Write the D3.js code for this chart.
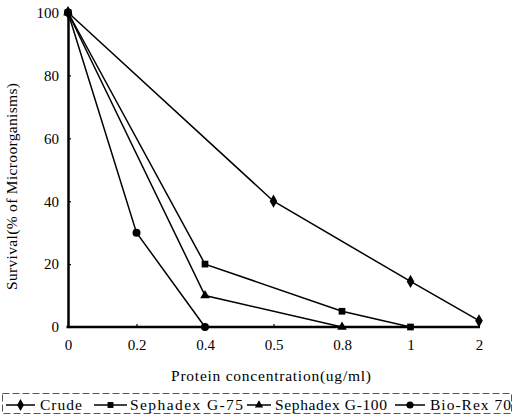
<!DOCTYPE html>
<html><head><meta charset="utf-8">
<script src="https://cdn.jsdelivr.net/npm/d3@7"></script>
<style>body{margin:0;background:#fff;}</style>
</head><body>
<svg id="c" width="514" height="417"></svg>
<script>
const categories = ["0","0.2","0.4","0.5","0.8","1","2"];
const yTicks = [0,20,40,60,80,100];
const seriesNames = ["Crude","Sephadex G-75","Sephadex G-100","Bio-Rex 70"];
const crude = [["0",100],["0.5",40],["1",14.5],["2",2]];
const sephadexG75 = [["0",100],["0.4",20],["0.8",5],["1",0]];
const sephadexG100 = [["0",100],["0.4",10],["0.8",0]];
const bioRex70 = [["0",100],["0.2",30],["0.4",0]];
const seriesData = [crude, sephadexG75, sephadexG100, bioRex70];
const symbols = [d3.symbolDiamond, d3.symbolSquare, d3.symbolTriangle, d3.symbolCircle];
const symSizes = [50, 45, 40, 50];
const FONT = "'Liberation Serif','Times New Roman',serif";

const svg = d3.select("#c");
const x = d3.scalePoint().domain(categories).range([68, 479]);
const y = d3.scaleLinear().domain([0,100]).range([327, 12.5]);

// lines
const line = d3.line().x(d=>x(d[0])).y(d=>y(d[1]));
seriesData.forEach((s,i)=>{
  svg.append("path").datum(s).attr("d",line).attr("fill","none").attr("stroke","#000").attr("stroke-width",1.5);
  svg.selectAll(null).data(s).enter().append("path")
    .attr("transform",d=>`translate(${x(d[0])},${y(d[1])})`)
    .attr("d",d3.symbol().type(symbols[i]).size(symSizes[i]))
    .attr("fill","#000");
});

// axes
const yAxis = d3.axisLeft(y).tickValues(yTicks).tickSizeInner(-3).tickSizeOuter(0).tickPadding(9);
const gy = svg.append("g").attr("transform","translate(68,0)").call(yAxis);
const xAxis = d3.axisBottom(x).tickSizeInner(-3).tickSizeOuter(0).tickPadding(12);
const gx = svg.append("g").attr("transform","translate(0,327)").call(xAxis);
[gx,gy].forEach(g=>{
  g.attr("font-family",FONT);
  g.select(".domain").attr("stroke","#000").attr("stroke-width",2.5);
  g.selectAll(".tick line").attr("stroke","#000").attr("stroke-width",1.2);
  g.selectAll(".tick text").attr("font-family",FONT).attr("font-size",15).attr("fill","#000");
});
gx.select(".domain").attr("d","M66.5,0H480");

// titles
svg.append("text").attr("x",171).attr("y",381)
  .attr("font-family",FONT).attr("font-size",15.5)
  .attr("textLength",200).attr("lengthAdjust","spacing").text("Protein concentration(ug/ml)");
svg.append("text").attr("transform","translate(17,290) rotate(-90)")
  .attr("font-family",FONT).attr("font-size",15.5)
  .attr("textLength",207).attr("lengthAdjust","spacing").text("Survival(% of Microorganisms)");

// legend
svg.append("rect").attr("x",2.5).attr("y",393.5).attr("width",509).attr("height",20)
  .attr("fill","none").attr("stroke","#555").attr("stroke-width",1).attr("stroke-dasharray","7,3");
const legLine = [[6,35],[94,127],[247,271],[395,425]];
const legText = [[40,42],[130,113],[275,112],[430,81]];
seriesNames.forEach((n,i)=>{
  const [a,b] = legLine[i];
  svg.append("line").attr("x1",a).attr("x2",b).attr("y1",405).attr("y2",405).attr("stroke","#000").attr("stroke-width",1.5);
  svg.append("path").attr("transform",`translate(${(a+b)/2},405)`).attr("d",d3.symbol().type(symbols[i]).size(symSizes[i]-10)).attr("fill","#000");
  svg.append("text").attr("x",legText[i][0]).attr("y",410).attr("font-family",FONT).attr("font-size",15.5)
    .attr("textLength",legText[i][1]).attr("lengthAdjust","spacing").text(n);
});
</script>
</body></html>
